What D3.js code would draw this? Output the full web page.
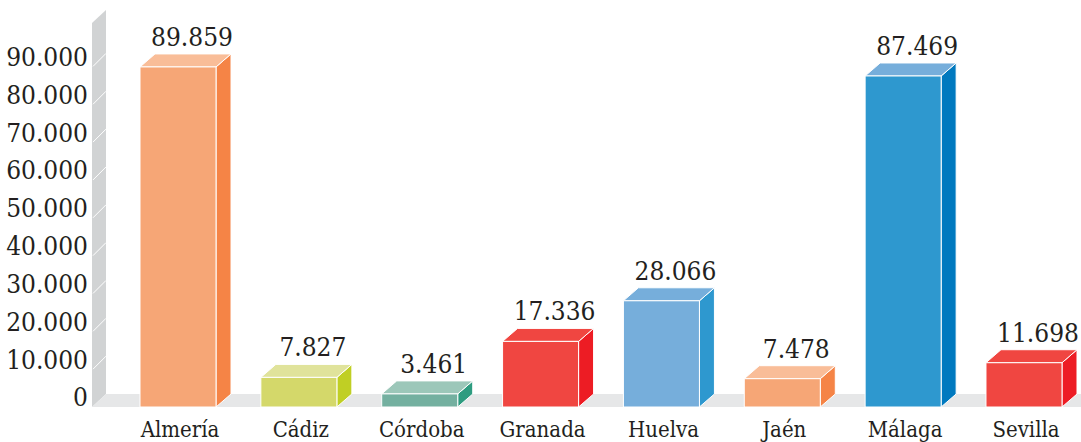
<!DOCTYPE html>
<html lang="es">
<head>
<meta charset="utf-8">
<title>Andalucía por provincias</title>
<script src="https://cdn.jsdelivr.net/npm/d3@7"></script>
<style>
  html, body { margin: 0; padding: 0; background: #ffffff; }
  svg { display: block; }
  .lbl { font-family: "DejaVu Serif", "Liberation Serif", serif; font-stretch: condensed; fill: #231f20; }
</style>
</head>
<body>
<svg id="chart" width="1081" height="442"></svg>
<script>
// Provinces and their values
const categories = ["Almería", "Cádiz", "Córdoba", "Granada", "Huelva", "Jaén", "Málaga", "Sevilla"];
const values = [89859, 7827, 3461, 17336, 28066, 7478, 87469, 11698];
const valueLabels = ["89.859", "7.827", "3.461", "17.336", "28.066", "7.478", "87.469", "11.698"];

// Axis ticks
const tickValues = [0, 10000, 20000, 30000, 40000, 50000, 60000, 70000, 80000, 90000];
const tickLabels = ["0", "10.000", "20.000", "30.000", "40.000", "50.000", "60.000", "70.000", "80.000", "90.000"];

// Face colours per bar: front, top, side
const frontColors = ["#f6a676", "#d4d86a", "#74b0a0", "#f04641", "#76aedb", "#f6a676", "#2e98cf", "#f04641"];
const topColors   = ["#f9bd98", "#e0e39b", "#9cc7b9", "#f04641", "#76aedb", "#f9bd98", "#76aedb", "#f04641"];
const sideColors  = ["#f58446", "#c0cf24", "#2e9c80", "#ed1c24", "#2e98cf", "#f58446", "#0079bf", "#ed1c24"];

const wallTop = 101500;   // height of the back wall in data units

const svg = d3.select("#chart");
const W = 1081;

// 3D depth offset
const dx = 15, dy = 13;

const x = d3.scaleBand()
  .domain(categories)
  .range([140, 1062])
  .paddingInner(0.371)
  .paddingOuter(0);

const y = d3.scaleLinear()
  .domain([0, 90000])
  .range([407, 66.4]);

const wallX = 92;
const y0 = y(0);

// Left wall
svg.append("polygon")
  .attr("points", [
    [wallX, y0], [wallX, y(wallTop)], [wallX + dx - 1, y(wallTop) - dy], [wallX + dx - 1, y0 - dy]
  ].map(p => p.join(",")).join(" "))
  .attr("fill", "#d1d3d4");

// Floor
svg.append("polygon")
  .attr("points", [
    [wallX, y0], [W, y0], [W, y0 - dy], [wallX + dx - 1, y0 - dy]
  ].map(p => p.join(",")).join(" "))
  .attr("fill", "#e6e7e8");

// Wall grid lines
svg.append("g").selectAll("line")
  .data(tickValues.filter(v => v > 0))
  .join("line")
  .attr("x1", wallX + 1).attr("y1", d => y(d))
  .attr("x2", wallX + dx - 1).attr("y2", d => y(d) - dy)
  .attr("stroke", "#ffffff")
  .attr("stroke-width", 1);

// Value axis labels
const yAxis = svg.append("g")
  .attr("transform", `translate(88,0)`)
  .call(d3.axisLeft(y).tickValues(tickValues).tickFormat((d, i) => tickLabels[i]).tickSize(0).tickPadding(0));
yAxis.select(".domain").remove();
yAxis.selectAll("text")
  .attr("class", "lbl")
  .attr("font-size", 26)
  .attr("dy", "-0.04em");

// Bars
const bars = svg.append("g").selectAll("g")
  .data(categories.map((c, i) => ({ c, v: values[i], i })))
  .join("g");

const bw = x.bandwidth();

bars.append("polygon") // side
  .attr("points", d => {
    const x1 = x(d.c) + bw, yt = y(d.v);
    return [[x1, y0], [x1, yt], [x1 + dx, yt - dy], [x1 + dx, y0 - dy]].map(p => p.join(",")).join(" ");
  })
  .attr("fill", d => sideColors[d.i])
  .attr("stroke", "#ffffff").attr("stroke-width", 1).attr("stroke-linejoin", "round");

bars.append("polygon") // top
  .attr("points", d => {
    const x0 = x(d.c), x1 = x0 + bw, yt = y(d.v);
    return [[x0, yt], [x1, yt], [x1 + dx, yt - dy], [x0 + dx, yt - dy]].map(p => p.join(",")).join(" ");
  })
  .attr("fill", d => topColors[d.i])
  .attr("stroke", "#ffffff").attr("stroke-width", 1).attr("stroke-linejoin", "round");

bars.append("rect") // front
  .attr("x", d => x(d.c))
  .attr("y", d => y(d.v))
  .attr("width", bw)
  .attr("height", d => y0 - y(d.v))
  .attr("fill", d => frontColors[d.i])
  .attr("stroke", "#ffffff").attr("stroke-width", 1);

// Value labels
bars.append("text")
  .attr("class", "lbl")
  .attr("font-size", 26)
  .attr("text-anchor", "middle")
  .attr("x", d => x(d.c) + bw / 2 + 14)
  .attr("y", d => y(d.v) - dy - 8)
  .text(d => valueLabels[d.i]);

// Category axis
const xAxis = svg.append("g")
  .attr("transform", `translate(0,437)`)
  .call(d3.axisBottom(x).tickSize(0).tickPadding(0));
xAxis.select(".domain").remove();
xAxis.selectAll("text")
  .attr("class", "lbl")
  .attr("font-size", 22)
  .attr("y", 0)
  .attr("dy", 0)
  .attr("dx", 2);
</script>
</body>
</html>
